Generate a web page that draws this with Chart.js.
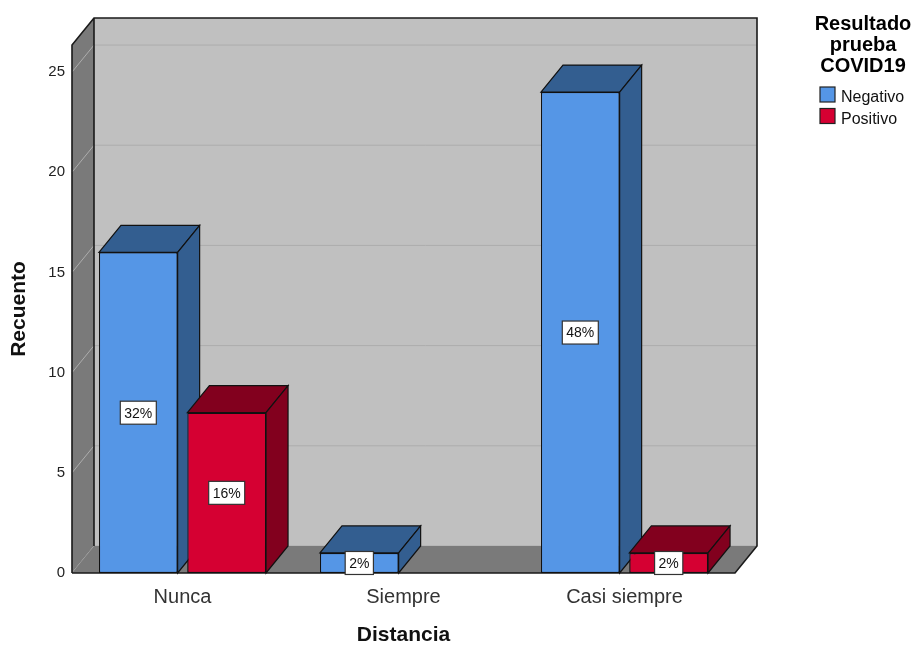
<!DOCTYPE html>
<html>
<head>
<meta charset="utf-8">
<script src="https://cdn.jsdelivr.net/npm/chart.js@4.4.1/dist/chart.umd.min.js"></script>
<style>
  body { margin: 0; background: #fff; }
  #wrap { width: 917px; height: 648px; position: relative; }
</style>
</head>
<body>
<div id="wrap"><canvas id="chart"></canvas></div>
<script>
// Data
const categories = ["Nunca", "Siempre", "Casi siempre"];
const negativo = [16, 1, 24];
const positivo = [8, 0, 1];
const seriesNames = ["Negativo", "Positivo"];
const yTicks = [0, 5, 10, 15, 20, 25];
const legendTitle = ["Resultado", "prueba", "COVID19"];

const FONT = "'Liberation Sans', Arial, sans-serif";
const total = negativo.concat(positivo).reduce((a, b) => a + b, 0);

// colours: front face / top+side face
const faceColors = [
  { front: "#5596e6", dark: "#335e90" },
  { front: "#d50032", dark: "#82001e" }
];

// depth of the 3D box
const DX = 22, DY = -27;

function poly(ctx, pts, fill, stroke, lw) {
  ctx.beginPath();
  ctx.moveTo(pts[0][0], pts[0][1]);
  for (let i = 1; i < pts.length; i++) ctx.lineTo(pts[i][0], pts[i][1]);
  ctx.closePath();
  if (fill) { ctx.fillStyle = fill; ctx.fill(); }
  if (stroke) { ctx.strokeStyle = stroke; ctx.lineWidth = lw || 1; ctx.stroke(); }
}

// Walls, floor and gridlines
const box3d = {
  id: "box3d",
  beforeDatasetsDraw(chart) {
    const { ctx, chartArea: a, scales: { y } } = chart;
    const L = a.left, R = a.right, T = a.top, B = a.bottom;
    ctx.save();
    // back wall
    poly(ctx, [[L + DX, T + DY], [R + DX, T + DY], [R + DX, B + DY], [L + DX, B + DY]], "#c0c0c0");
    // left wall
    poly(ctx, [[L, T], [L + DX, T + DY], [L + DX, B + DY], [L, B]], "#7a7a7a");
    // gridlines
    ctx.strokeStyle = "#adadad";
    ctx.lineWidth = 1;
    yTicks.forEach(v => {
      const py = y.getPixelForValue(v);
      ctx.beginPath();
      ctx.moveTo(L, py);
      ctx.lineTo(L + DX, py + DY);
      ctx.lineTo(R + DX, py + DY);
      ctx.stroke();
    });
    // floor
    poly(ctx, [[L, B], [L + DX, B + DY], [R + DX, B + DY], [R, B]], "#7a7a7a");
    // outlines
    ctx.strokeStyle = "#1a1a1a";
    ctx.lineWidth = 1.6;
    ctx.beginPath();
    ctx.moveTo(L, B); ctx.lineTo(L, T); ctx.lineTo(L + DX, T + DY);
    ctx.lineTo(R + DX, T + DY); ctx.lineTo(R + DX, B + DY); ctx.lineTo(R, B); ctx.lineTo(L, B);
    ctx.moveTo(L + DX, T + DY); ctx.lineTo(L + DX, B + DY);
    ctx.stroke();
    ctx.restore();
  },
  afterDatasetsDraw(chart) {
    const { ctx } = chart;
    ctx.save();
    // redraw bars in series order with their top and side faces
    chart.data.datasets.forEach((ds, i) => {
      const meta = chart.getDatasetMeta(i);
      meta.data.forEach((bar, j) => {
        if (!ds.data[j]) return;
        const { x, y, base, width } = bar.getProps(["x", "y", "base", "width"], true);
        const x0 = x - width / 2, x1 = x + width / 2;
        bar.draw(ctx);
        const c = faceColors[i];
        poly(ctx, [[x0, y], [x0 + DX, y + DY], [x1 + DX, y + DY], [x1, y]], c.dark, "#111", 1.2);
        poly(ctx, [[x1, y], [x1 + DX, y + DY], [x1 + DX, base + DY], [x1, base]], c.dark, "#111", 1.2);
      });
    });
    // percent labels
    ctx.font = "14px " + FONT;
    ctx.textAlign = "center";
    ctx.textBaseline = "middle";
    chart.data.datasets.forEach((ds, i) => {
      const meta = chart.getDatasetMeta(i);
      meta.data.forEach((bar, j) => {
        const v = ds.data[j];
        if (!v) return;
        const { x, y, base } = bar.getProps(["x", "y", "base"], true);
        const txt = Math.round(v / total * 100) + "%";
        const w = ctx.measureText(txt).width + 8;
        const h = 23;
        const cy = (y + base) / 2;
        ctx.fillStyle = "#fff";
        ctx.fillRect(x - w / 2, cy - h / 2, w, h);
        ctx.strokeStyle = "#333";
        ctx.lineWidth = 1.2;
        ctx.strokeRect(x - w / 2, cy - h / 2, w, h);
        ctx.fillStyle = "#111";
        ctx.fillText(txt, x, cy + 1);
      });
    });
    ctx.restore();
  },
  afterDraw(chart) {
    const { ctx } = chart;
    ctx.save();
    // legend
    ctx.fillStyle = "#000";
    ctx.font = "bold 20px " + FONT;
    ctx.textAlign = "center";
    ctx.textBaseline = "alphabetic";
    legendTitle.forEach((t, k) => ctx.fillText(t, 863, 30 + k * 21));
    ctx.font = "16px " + FONT;
    ctx.textAlign = "left";
    seriesNames.forEach((name, k) => {
      const top = 87 + k * 21.5;
      ctx.fillStyle = faceColors[k].front;
      ctx.fillRect(820, top, 15, 15);
      ctx.strokeStyle = "#222";
      ctx.lineWidth = 1.2;
      ctx.strokeRect(820, top, 15, 15);
      ctx.fillStyle = "#111";
      ctx.fillText(name, 841, top + 15);
    });
    ctx.restore();
  }
};

new Chart(document.getElementById("chart"), {
  type: "bar",
  data: {
    labels: categories,
    datasets: [
      { label: seriesNames[0], data: negativo, backgroundColor: faceColors[0].front },
      { label: seriesNames[1], data: positivo, backgroundColor: faceColors[1].front }
    ]
  },
  options: {
    responsive: true,
    maintainAspectRatio: false,
    animation: false,
    events: [],
    layout: { padding: { left: 0, top: 45, right: 182, bottom: 0 } },
    datasets: {
      bar: {
        categoryPercentage: 0.8,
        barPercentage: 0.89,
        borderColor: "#111",
        borderWidth: 1.2,
        borderSkipped: false
      }
    },
    plugins: {
      legend: { display: false },
      tooltip: { enabled: false }
    },
    scales: {
      x: {
        grid: { display: false, drawTicks: false },
        border: { display: false },
        ticks: { padding: 12, color: "#333", font: { family: FONT, size: 20 } },
        title: { display: true, text: "Distancia", color: "#111", padding: { top: 0, bottom: 0 },
                 font: { family: FONT, size: 21, weight: "bold" } },
        afterFit: s => { s.height = 75; }
      },
      y: {
        min: 0,
        max: 26.35,
        grid: { display: false, drawTicks: false },
        border: { display: false },
        ticks: { padding: 7, color: "#222", font: { family: FONT, size: 15 } },
        afterBuildTicks: s => { s.ticks = yTicks.map(v => ({ value: v })); },
        title: { display: true, text: "Recuento", color: "#111", padding: { top: 7, bottom: 0 },
                 font: { family: FONT, size: 21, weight: "bold" } },
        afterFit: s => { s.width = 72; }
      }
    }
  },
  plugins: [box3d]
});
</script>
</body>
</html>
